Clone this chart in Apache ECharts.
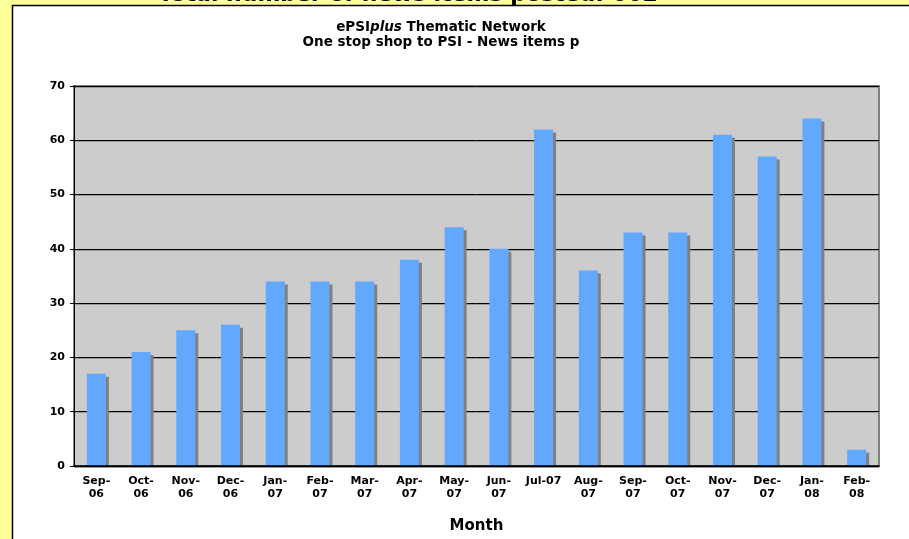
<!DOCTYPE html>
<html>
<head>
<meta charset="utf-8">
<script src="https://cdn.jsdelivr.net/npm/echarts@6/dist/echarts.min.js"></script>
<style>
  html, body { margin: 0; padding: 0; background: #FFFF99; }
  #main { width: 909px; height: 539px; }
</style>
</head>
<body>
<div id="main"></div>
<script>
// months on the x axis
const months = ['Sep-\n06', 'Oct-\n06', 'Nov-\n06', 'Dec-\n06', 'Jan-\n07', 'Feb-\n07',
  'Mar-\n07', 'Apr-\n07', 'May-\n07', 'Jun-\n07', 'Jul-07', 'Aug-\n07',
  'Sep-\n07', 'Oct-\n07', 'Nov-\n07', 'Dec-\n07', 'Jan-\n08', 'Feb-\n08'];
// news items posted per month
const newsItems = [17, 21, 25, 26, 34, 34, 34, 38, 44, 40, 62, 36, 43, 43, 61, 57, 64, 3];
const totalTitle = 'Total number of news items posted: 662';

const font = 'DejaVu Sans, Verdana, sans-serif';
const chart = echarts.init(document.getElementById('main'));

// bar with a flat grey shadow to its lower right, like the old Excel chart
function renderBar(params, api) {
  const top = api.coord([api.value(0), api.value(1)]);
  const base = api.coord([api.value(0), 0]);
  const w = 19, off = 3;
  const h = base[1] - top[1];
  return {
    type: 'group',
    children: [
      {
        type: 'rect',
        shape: { x: top[0] - w / 2 + off, y: top[1] + off, width: w, height: Math.max(h - off, 0) },
        style: { fill: '#808080' }
      },
      {
        type: 'rect',
        shape: { x: top[0] - w / 2, y: top[1], width: w, height: h },
        style: { fill: '#62A8FF' }
      }
    ]
  };
}

const option = {
  animation: false,
  backgroundColor: 'transparent',
  graphic: [
    {
      type: 'text', z: -2, x: 408, y: -4.5,
      style: { text: totalTitle, align: 'center', verticalAlign: 'middle',
        font: 'bold 22px ' + font, fill: '#000' }
    },
    {
      type: 'rect', z: -1,
      shape: { x: 12.5, y: 5.5, width: 1000, height: 600 },
      style: { fill: '#fff', stroke: '#000', lineWidth: 1.5 }
    },
    {
      type: 'text', x: 441, y: 20,
      style: {
        text: '{a|ePSI}{b|plus}{a| Thematic Network}\n{a|One stop shop to PSI - News items p}',
        align: 'center', verticalAlign: 'top',
        rich: {
          a: { fontFamily: font, fontWeight: 'bold', fontSize: 13.5, lineHeight: 15, fill: '#000' },
          b: { fontFamily: font, fontWeight: 'bold', fontStyle: 'italic', fontSize: 13.5, lineHeight: 15, fill: '#000' }
        }
      }
    }
  ],
  grid: {
    left: 74, right: 30, top: 86, bottom: 70,
    show: true, backgroundColor: '#CCCCCC',
    borderColor: '#808080', borderWidth: 2
  },
  xAxis: {
    type: 'category',
    data: months,
    z: 5,
    name: 'Month',
    nameLocation: 'middle',
    nameGap: 53,
    nameTextStyle: { fontFamily: font, fontWeight: 'bold', fontSize: 15, color: '#000' },
    axisLine: { lineStyle: { color: '#000', width: 1.5 } },
    axisTick: { length: 5, lineStyle: { color: '#000' } },
    axisLabel: { interval: 0, margin: 9, fontFamily: font, fontWeight: 'bold',
      fontSize: 11, lineHeight: 13, color: '#000' }
  },
  yAxis: {
    type: 'value',
    min: 0, max: 70, interval: 10,
    axisLine: { show: true, lineStyle: { color: '#000', width: 1 } },
    axisTick: { show: true, length: 4, lineStyle: { color: '#000' } },
    axisLabel: { margin: 9, fontFamily: font, fontWeight: 'bold', fontSize: 11, color: '#000' },
    splitLine: { lineStyle: { color: '#000', width: 1,
      shadowColor: '#999', shadowOffsetY: 1, shadowBlur: 0 } }
  },
  series: [
    {
      type: 'custom',
      renderItem: renderBar,
      encode: { x: 0, y: 1 },
      data: newsItems.map((v, i) => [i, v])
    }
  ]
};
chart.setOption(option);
</script>
</body>
</html>
